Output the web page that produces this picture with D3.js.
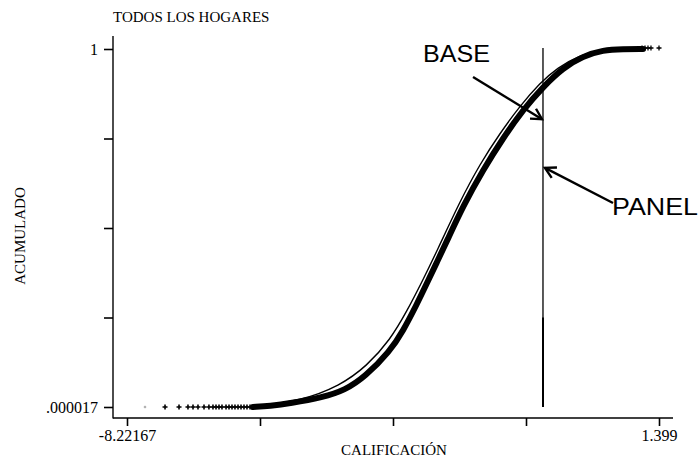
<!DOCTYPE html>
<html>
<head>
<meta charset="utf-8">
<script src="https://cdn.jsdelivr.net/npm/d3@7"></script>
<style>
  body { margin: 0; background: #fff; }
  svg { display: block; }
</style>
</head>
<body>
<svg id="svg" width="699" height="464"></svg>
<script>
// data (score, cumulative share)
var thickX = [-5.943, -5.636, -5.274, -4.677, -4.279, -3.918, -3.465, -3.231, -2.977, -2.797, -2.616,
              -2.435, -2.145, -1.784, -1.422, -1.060, -0.699, -0.337, 0.024, 0.386, 0.748, 1.110]
var thickY = [0.000, 0.003, 0.010, 0.027, 0.047, 0.084, 0.156, 0.212, 0.288, 0.346, 0.405,
              0.464, 0.561, 0.662, 0.751, 0.830, 0.894, 0.947, 0.980, 0.997, 1.000, 1.000]
var thinX = [-5.816, -5.093, -4.370, -3.881, -3.465, -3.158, -2.869, -2.616, -2.200, -1.838,
             -1.476, -1.115, -0.753, -0.446, -0.030, 0.332, 0.694]
var thinY = [0.003, 0.017, 0.059, 0.115, 0.187, 0.268, 0.355, 0.436, 0.575, 0.679,
             0.765, 0.841, 0.905, 0.947, 0.983, 0.997, 1.000]
// sparse "+" markers of the tails
var lowTailX = [-7.896, -7.534, -7.281, -7.119, -7.028, -6.938, -6.829, -6.740, -6.667, -6.612, -6.558,
                -6.504, -6.431, -6.377, -6.323, -6.269, -6.214, -6.160, -6.106, -6.052, -5.997]
var highTailX = [1.092, 1.146, 1.200, 1.254, 1.399]
var cutoffX = -0.699

var xTicks = [-8.22167, -5.8165, -3.41133, -1.00616, 1.399]
var xTickLabels = ["-8.22167", "", "", "", "1.399"]
var yTicks = [0.000017, 0.25, 0.5, 0.75, 1]
var yTickLabels = [".000017", "", "", "", "1"]

// annotations: [text, textX, textY, fromX, fromY, toX, toY]
var notes = [
    ["BASE", -2.869, 0.964, -1.964, 0.922, -0.717, 0.804],
    ["PANEL", 0.549, 0.536, 0.567, 0.570, -0.663, 0.668]
]

var svg = d3.select("#svg")
var serif = "'Liberation Serif', 'Times New Roman', serif"

var x = d3.scaleLinear().domain([-8.22167, 1.399]).range([127, 659])
var y = d3.scaleLinear().domain([0.000017, 1]).range([407, 49])
var axisX = 113, axisY = 418

// axes
let gy = svg.append("g").attr("transform", "translate(" + axisX + ",0)")
    .call(d3.axisLeft(y).tickValues(yTicks).tickSize(9).tickPadding(6)
        .tickFormat((d, i) => yTickLabels[i]))
let gx = svg.append("g").attr("transform", "translate(0," + axisY + ")")
    .call(d3.axisBottom(x).tickValues(xTicks).tickSize(8).tickPadding(4)
        .tickFormat((d, i) => xTickLabels[i]))
svg.selectAll(".domain").remove()
svg.selectAll(".tick line").attr("stroke", "#000").attr("stroke-width", 1.6)
svg.selectAll(".tick text").attr("fill", "#000")
    .style("font-family", serif).style("font-size", "16px")

svg.append("line").attr("x1", axisX).attr("x2", axisX).attr("y1", 36).attr("y2", axisY + 0.5)
    .attr("stroke", "#000").attr("stroke-width", 1.4)
svg.append("line").attr("x1", axisX).attr("x2", 673).attr("y1", axisY).attr("y2", axisY)
    .attr("stroke", "#000").attr("stroke-width", 1.4)

// titles
svg.append("text").attr("x", axisX).attr("y", 22).text("TODOS LOS HOGARES")
    .style("font-family", serif).style("font-size", "15px")
svg.append("text").attr("x", 394).attr("y", 455).attr("text-anchor", "middle")
    .text("CALIFICACIÓN").style("font-family", serif).style("font-size", "15px")
svg.append("text").attr("transform", "translate(25,236) rotate(-90)").attr("text-anchor", "middle")
    .text("ACUMULADO").style("font-family", serif).style("font-size", "15px")

// cutoff line
svg.append("line")
    .attr("x1", x(cutoffX)).attr("x2", x(cutoffX))
    .attr("y1", y(1) - 1).attr("y2", y(0.000017))
    .attr("stroke", "#000").attr("stroke-width", 1.3)
svg.append("line")
    .attr("x1", x(cutoffX)).attr("x2", x(cutoffX))
    .attr("y1", y(0.25)).attr("y2", y(0.000017))
    .attr("stroke", "#000").attr("stroke-width", 2)

// curves
var line = d3.line().x(d => x(d[0])).y(d => y(d[1])).curve(d3.curveBasis)

svg.append("path").datum(d3.zip(thickX, thickY)).attr("d", line)
    .attr("fill", "none").attr("stroke", "#000").attr("stroke-width", 6)
    .attr("stroke-linecap", "round")
svg.append("path").datum(d3.zip(thinX, thinY)).attr("d", line)
    .attr("fill", "none").attr("stroke", "#000").attr("stroke-width", 1.4)

// tail markers
var plus = "M-2.5,0H2.5M0,-2.5V2.5"
svg.append("g").selectAll("path").data(lowTailX).join("path")
    .attr("d", plus)
    .attr("transform", d => "translate(" + x(d) + "," + y(0.000017) + ")" + (d === lowTailX[0] ? " scale(0.5)" : ""))
    .attr("stroke", d => d === lowTailX[0] ? "#888" : "#000").attr("stroke-width", 1.6)
svg.append("g").selectAll("path").data(highTailX).join("path")
    .attr("d", plus)
    .attr("transform", d => "translate(" + x(d) + "," + (y(1) - 1) + ")")
    .attr("stroke", "#000").attr("stroke-width", 1.3)

// arrows with labels
function arrowHead(x1, y1, x2, y2) {
    let a = Math.atan2(y2 - y1, x2 - x1), len = 12, sp = 0.5
    return "M" + (x2 - len * Math.cos(a - sp)) + "," + (y2 - len * Math.sin(a - sp)) +
        "L" + x2 + "," + y2 +
        "L" + (x2 - len * Math.cos(a + sp)) + "," + (y2 - len * Math.sin(a + sp))
}
notes.forEach(function(n) {
    svg.append("text").attr("x", x(n[1])).attr("y", y(n[2])).text(n[0])
        .attr("textLength", n[0] === "BASE" ? 67 : 86).attr("lengthAdjust", "spacingAndGlyphs")
        .style("font-family", "'Liberation Sans', Arial, sans-serif").style("font-size", "24px")
    let x1 = x(n[3]), y1 = y(n[4]), x2 = x(n[5]), y2 = y(n[6])
    svg.append("line").attr("x1", x1).attr("y1", y1).attr("x2", x2).attr("y2", y2)
        .attr("stroke", "#000").attr("stroke-width", 2.4)
    svg.append("path").attr("d", arrowHead(x1, y1, x2, y2))
        .attr("fill", "none").attr("stroke", "#000").attr("stroke-width", 2.4)
})
</script>
</body>
</html>
